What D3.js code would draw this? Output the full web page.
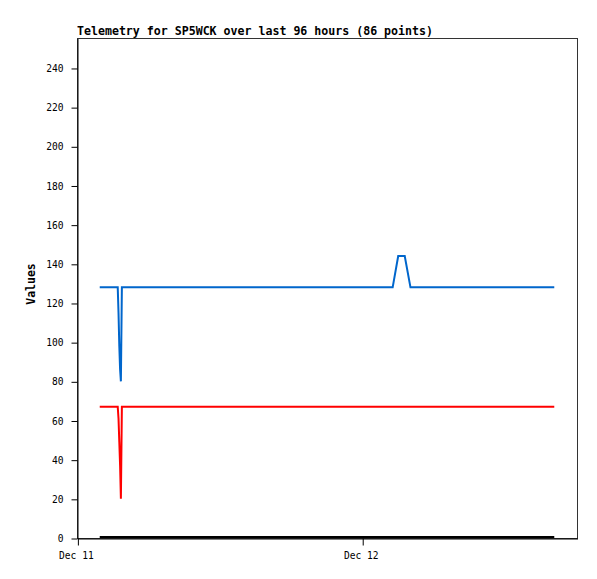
<!DOCTYPE html>
<html>
<head>
<meta charset="utf-8">
<script src="https://cdn.jsdelivr.net/npm/d3@7"></script>
<style>
html,body{margin:0;padding:0;background:#fff;}
svg{display:block;}
</style>
</head>
<body>
<svg id="chart" width="597" height="579"></svg>
<script>
// ---- data (times in UTC, Dec 2023) ----
const chartTitle = "Telemetry for SP5WCK over last 96 hours (86 points)";
const yTickValues = [0, 20, 40, 60, 80, 100, 120, 140, 160, 180, 200, 220, 240];
const xTickLabels = ["Dec 11", "Dec 12"];
const xTickDates = ["2023-12-11T00:00Z", "2023-12-12T00:00Z"];

const times = [
  "2023-12-11T01:53Z",
  "2023-12-11T03:24Z",
  "2023-12-11T03:28Z",
  "2023-12-11T03:32Z",
  "2023-12-11T03:36Z",
  "2023-12-11T03:40Z",
  "2023-12-11T03:45Z",
  "2023-12-12T02:34Z",
  "2023-12-12T03:02Z",
  "2023-12-12T03:35Z",
  "2023-12-12T04:04Z",
  "2023-12-12T16:11Z"
];
const blueValues  = [128, 128, 115, 98, 86, 80, 128, 128, 144, 144, 128, 128];
const redValues   = [67, 67, 61, 49, 37, 20, 67, 67, 67, 67, 67, 67];
const blackValues = [0, 0, 0, 0, 0, 0, 0, 0, 0, 0, 0, 0];
const seriesColors = ["#000000", "#ff0000", "#0066cc"];

// ---- layout ----
const svg = d3.select("#chart");
const margin = {left: 77, top: 38, right: 20, bottom: 41};
const W = 597, H = 579;
const innerW = W - margin.left - margin.right;
const innerH = H - margin.top - margin.bottom;

const parsed = times.map(t => new Date(t));
const ext = d3.extent(parsed);
const pad = (ext[1] - ext[0]) * 0.05;

const x = d3.scaleUtc()
  .domain([new Date(+ext[0] - pad), new Date(+ext[1] + pad)])
  .range([margin.left, margin.left + innerW]);
const y = d3.scaleLinear().domain([0, 255.3]).range([margin.top + innerH, margin.top]);

const mono = "'DejaVu Sans Mono', 'Liberation Mono', monospace";

// frame
svg.append("rect")
  .attr("x", margin.left + 0.5).attr("y", margin.top + 0.5)
  .attr("width", innerW).attr("height", innerH)
  .attr("fill", "none").attr("stroke", "#333").attr("stroke-width", 1);

// series lines
const seriesList = [blackValues, redValues, blueValues];
const line = d3.line()
  .x((d, i) => x(parsed[i]))
  .y(d => y(d));
seriesList.forEach((vals, k) => {
  svg.append("path")
    .datum(vals)
    .attr("d", line)
    .attr("fill", "none")
    .attr("stroke", seriesColors[k])
    .attr("stroke-width", 2)
    .attr("stroke-linejoin", "miter")
    .attr("transform", k === 0 ? "translate(0,-1)" : null);
});

// y axis
const yAxis = d3.axisLeft(y).tickValues(yTickValues).tickSizeInner(6).tickSizeOuter(0).tickPadding(8);
const gy = svg.append("g").attr("transform", `translate(${margin.left + 0.5},0.5)`).call(yAxis);
gy.select(".domain").attr("stroke", "#000");
gy.selectAll(".tick line").attr("stroke", "#000");
gy.selectAll("text").attr("font-family", mono).attr("font-size", "9.6px").attr("fill", "#000");

// x axis
const xAxis = d3.axisBottom(x)
  .tickValues(xTickDates.map(d => new Date(d)))
  .tickFormat((d, i) => xTickLabels[i])
  .tickSizeInner(7).tickSizeOuter(0).tickPadding(7);
const gx = svg.append("g").attr("transform", `translate(0.5,${margin.top + innerH + 0.5})`).call(xAxis);
gx.select(".domain").attr("stroke", "#000");
gx.selectAll(".tick line").attr("stroke", "#000");
gx.selectAll("text").attr("font-family", mono).attr("font-size", "9.6px").attr("fill", "#000")
  .attr("dx", "-2");

// title
svg.append("text")
  .attr("x", margin.left).attr("y", 35)
  .attr("font-family", mono).attr("font-weight", "bold").attr("font-size", "11.6px")
  .text(chartTitle);

// y axis title
svg.append("text")
  .attr("transform", `translate(35,${margin.top + innerH / 2 - 4}) rotate(-90)`)
  .attr("text-anchor", "middle")
  .attr("font-family", mono).attr("font-weight", "bold").attr("font-size", "11.5px")
  .text("Values");
</script>
</body>
</html>
